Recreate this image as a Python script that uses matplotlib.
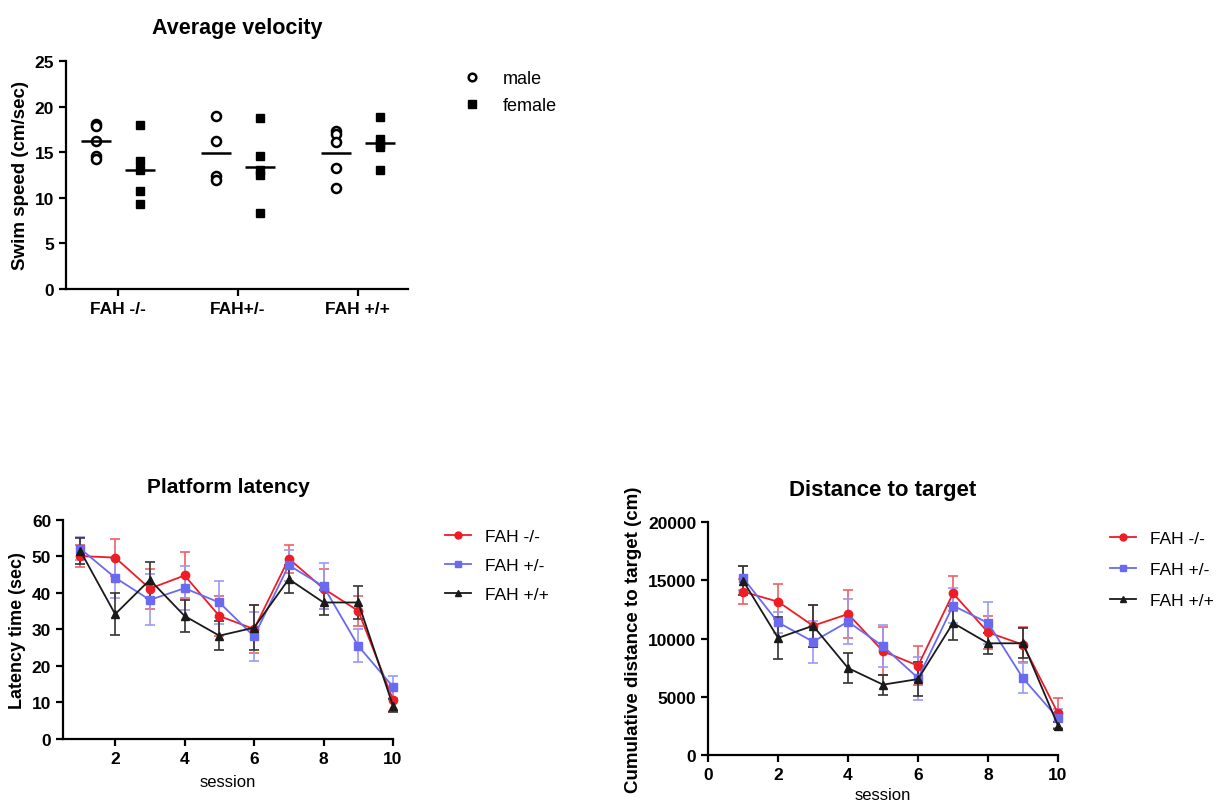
import numpy as np
import matplotlib
matplotlib.use("Agg")
import matplotlib.pyplot as plt
from matplotlib.lines import Line2D

plt.rcParams['font.family'] = ['Liberation Sans', 'DejaVu Sans']

# average velocity, swim speed (cm/sec)
groups = ['FAH -/-', 'FAH+/-', 'FAH +/+']
male_speed = [
    [18.1, 17.9, 16.2, 14.6, 14.3],
    [19.0, 16.2, 12.4, 11.9],
    [17.3, 17.0, 16.1, 13.3, 11.1],
]
female_speed = [
    [18.0, 14.0, 13.0, 10.7, 9.3],
    [18.7, 14.6, 13.0, 12.5, 8.3],
    [18.9, 16.4, 15.6, 15.9, 13.0],
]

# learning curves
sessions = [1, 2, 3, 4, 5, 6, 7, 8, 9, 10]
genotypes = ['FAH -/-', 'FAH +/-', 'FAH +/+']

latency = [
    [50.1, 49.7, 41.2, 44.8, 33.7, 30.1, 49.4, 41.2, 35.1, 10.8],
    [52.1, 44.2, 38.1, 41.3, 37.4, 28.1, 47.6, 41.8, 25.5, 14.3],
    [51.5, 34.2, 43.6, 33.7, 28.3, 30.5, 43.8, 37.4, 37.4, 9.1],
]
latency_err = [
    [3.0, 5.0, 5.5, 6.3, 5.5, 6.5, 3.8, 5.5, 4.2, 3.0],
    [3.2, 5.5, 7.0, 6.0, 5.8, 6.7, 4.2, 6.3, 4.5, 3.0],
    [3.6, 5.7, 5.0, 4.3, 4.0, 6.2, 3.8, 3.4, 4.6, 1.8],
]

distance = [
    [14030, 13170, 11100, 12110, 8900, 7660, 13890, 10530, 9470, 3560],
    [15210, 11390, 9730, 11450, 9330, 6600, 12830, 11340, 6570, 3130],
    [14980, 10050, 11100, 7460, 6030, 6510, 11340, 9590, 9590, 2500],
]
distance_err = [
    [1100, 1500, 1800, 2050, 2050, 1700, 1500, 1450, 1500, 1300],
    [1050, 900, 1800, 1950, 1800, 1850, 1500, 1800, 1300, 800],
    [1250, 1800, 1800, 1300, 850, 1450, 1500, 900, 1300, 300],
]

line_colors = ['#ee1c24', '#6a6af0', '#1a1a1a']
err_colors = ['#f06065', '#9a9af5', '#333333']
markers = ['o', 's', '^']

fig = plt.figure(figsize=(12.17, 8.12), dpi=100)


def style_axes(ax):
    for s in ['top', 'right']:
        ax.spines[s].set_visible(False)
    for s in ['left', 'bottom']:
        ax.spines[s].set_linewidth(1.6)
    ax.tick_params(width=1.6, length=5, labelsize=12.5)
    for lab in ax.get_xticklabels() + ax.get_yticklabels():
        lab.set_fontweight('bold')


# --- top: average velocity ---
ax1 = fig.add_axes([0.0542, 0.6429, 0.2811, 0.2808])
xpos = np.arange(len(groups))
for i in range(len(groups)):
    m = male_speed[i]
    f = female_speed[i]
    ax1.plot([xpos[i] - 0.18] * len(m), m, 'o', ms=6.5, mfc='white',
             mec='black', mew=1.8, clip_on=False)
    ax1.plot([xpos[i] + 0.19] * len(f), f, 's', ms=6, color='black')
    ax1.hlines(np.mean(m), xpos[i] - 0.305, xpos[i] - 0.055, color='black', lw=1.8)
    ax1.hlines(np.mean(f), xpos[i] + 0.065, xpos[i] + 0.315, color='black', lw=1.8)
ax1.set_xlim(-0.43, 2.42)
ax1.set_ylim(0, 25)
ax1.set_xticks(xpos)
ax1.set_xticklabels(groups)
ax1.set_yticks([0, 5, 10, 15, 20, 25])
ax1.set_ylabel('Swim speed (cm/sec)', fontsize=13.5, fontweight='bold')
ax1.set_title('Average velocity', fontsize=15.5, fontweight='bold', pad=20)
style_axes(ax1)

h1 = [Line2D([], [], ls='none', marker='o', ms=5.5, mfc='white', mec='black', mew=1.8),
      Line2D([], [], ls='none', marker='s', ms=5.5, color='black')]
fig.legend(h1, ['male', 'female'], loc='upper left', bbox_to_anchor=(0.367, 0.932),
           frameon=False, fontsize=13, handlelength=1.0, handletextpad=1.2,
           labelspacing=0.55)


def curve_plot(ax, data, errs):
    for k in range(len(genotypes)):
        ax.errorbar(sessions, data[k], yerr=errs[k], color=line_colors[k],
                    ecolor=err_colors[k], marker=markers[k], ms=6, lw=1.3,
                    elinewidth=1.2, capsize=3.5, capthick=1.2,
                    clip_on=False)


def curve_handles():
    return [Line2D([], [], color=line_colors[k], marker=markers[k], ms=5, lw=1.3)
            for k in range(len(genotypes))]


# --- bottom left: platform latency ---
ax2 = fig.add_axes([0.0518, 0.0887, 0.2711, 0.2697])
curve_plot(ax2, latency, latency_err)
ax2.set_xlim(0.5, 10)
ax2.set_ylim(0, 60)
ax2.set_xticks([2, 4, 6, 8, 10])
ax2.set_yticks([0, 10, 20, 30, 40, 50, 60])
ax2.set_xlabel('session', fontsize=12, labelpad=6)
ax2.set_ylabel('Latency time (sec)', fontsize=13, fontweight='bold')
ax2.set_title('Platform latency', fontsize=15, fontweight='bold', pad=20)
style_axes(ax2)
fig.legend(curve_handles(), genotypes, loc='upper left', bbox_to_anchor=(0.353, 0.367),
           frameon=False, fontsize=12.5, handlelength=1.5, handletextpad=0.8,
           labelspacing=0.8)

# --- bottom right: distance to target ---
ax3 = fig.add_axes([0.5818, 0.0693, 0.2876, 0.2862])
curve_plot(ax3, distance, distance_err)
ax3.set_xlim(0, 10)
ax3.set_ylim(0, 20000)
ax3.set_xticks([0, 2, 4, 6, 8, 10])
ax3.set_yticks([0, 5000, 10000, 15000, 20000])
ax3.set_xlabel('session', fontsize=12, labelpad=4)
ax3.set_ylabel('Cumulative distance to target (cm)', fontsize=13.5, fontweight='bold')
ax3.set_title('Distance to target', fontsize=16, fontweight='bold', pad=20)
style_axes(ax3)
fig.legend(curve_handles(), genotypes, loc='upper left', bbox_to_anchor=(0.899, 0.364),
           frameon=False, fontsize=12.5, handlelength=1.5, handletextpad=0.8,
           labelspacing=0.9)

fig.savefig('out.png', dpi=100)
